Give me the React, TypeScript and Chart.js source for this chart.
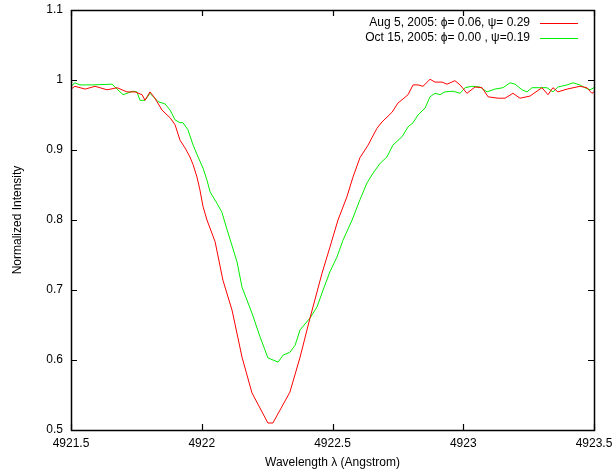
import React, { useEffect, useRef } from "react";
import { Chart, registerables } from "chart.js";

Chart.register(...registerables);

const xTickLabels = ["4921.5", "4922", "4922.5", "4923", "4923.5"];
const yTickLabels = ["0.5", "0.6", "0.7", "0.8", "0.9", "1", "1.1"];

const legendLabels = [
  "Aug 5, 2005: \u03d5= 0.06, \u03c8= 0.29",
  "Oct 15, 2005: \u03d5= 0.00 , \u03c8=0.19",
];
const seriesColors = ["#ff0000", "#00ee00"];

const augWavelength = [
  4921.5, 4921.515, 4921.554, 4921.592, 4921.638, 4921.676, 4921.714, 4921.745, 4921.772, 4921.783,
  4921.802, 4921.821, 4921.848, 4921.879, 4921.898, 4921.917, 4921.936, 4921.955, 4921.967, 4921.982,
  4921.993, 4922.005, 4922.02, 4922.051, 4922.081, 4922.116, 4922.154, 4922.192, 4922.253, 4922.272,
  4922.337, 4922.376, 4922.414, 4922.46, 4922.49, 4922.521, 4922.555, 4922.578, 4922.605, 4922.636,
  4922.67, 4922.689, 4922.728, 4922.75, 4922.77, 4922.789, 4922.808, 4922.827, 4922.846, 4922.873,
  4922.892, 4922.919, 4922.938, 4922.968, 4922.988, 4923.014, 4923.045, 4923.072, 4923.095, 4923.133,
  4923.16, 4923.19, 4923.217, 4923.255, 4923.301, 4923.324, 4923.343, 4923.362, 4923.397, 4923.446,
  4923.473, 4923.492, 4923.5,
];
const augIntensity = [
  0.987, 0.991, 0.987, 0.991, 0.986, 0.989, 0.983, 0.983, 0.979, 0.971,
  0.983, 0.974, 0.957, 0.946, 0.936, 0.914, 0.903, 0.89, 0.879, 0.861,
  0.843, 0.819, 0.8, 0.769, 0.714, 0.671, 0.604, 0.553, 0.51, 0.51,
  0.554, 0.604, 0.66, 0.724, 0.761, 0.8, 0.833, 0.861, 0.889, 0.907,
  0.931, 0.94, 0.954, 0.967, 0.973, 0.979, 0.993, 0.993, 0.991, 1.001,
  0.997, 0.997, 0.994, 0.999, 0.993, 0.981, 0.99, 0.989, 0.976, 0.974,
  0.974, 0.981, 0.974, 0.977, 0.989, 0.979, 0.989, 0.983, 0.987, 0.991,
  0.989, 0.981, 0.983,
];

const octWavelength = [
  4921.5, 4921.515, 4921.534, 4921.584, 4921.657, 4921.668, 4921.699, 4921.737, 4921.752, 4921.764,
  4921.783, 4921.802, 4921.833, 4921.859, 4921.879, 4921.898, 4921.917, 4921.928, 4921.947, 4921.967,
  4921.986, 4922.005, 4922.02, 4922.032, 4922.058, 4922.077, 4922.097, 4922.135, 4922.154, 4922.192,
  4922.223, 4922.253, 4922.292, 4922.311, 4922.337, 4922.357, 4922.376, 4922.414, 4922.441, 4922.464,
  4922.49, 4922.517, 4922.54, 4922.575, 4922.605, 4922.632, 4922.655, 4922.682, 4922.708, 4922.731,
  4922.766, 4922.789, 4922.808, 4922.827, 4922.854, 4922.873, 4922.892, 4922.911, 4922.93, 4922.961,
  4922.988, 4923.007, 4923.033, 4923.064, 4923.091, 4923.121, 4923.152, 4923.179, 4923.198, 4923.225,
  4923.244, 4923.263, 4923.293, 4923.32, 4923.343, 4923.362, 4923.397, 4923.42, 4923.446, 4923.465,
  4923.485, 4923.5,
];
const octIntensity = [
  0.991, 0.996, 0.993, 0.993, 0.994, 0.99, 0.979, 0.984, 0.983, 0.971,
  0.971, 0.981, 0.969, 0.966, 0.957, 0.943, 0.939, 0.939, 0.929, 0.907,
  0.89, 0.874, 0.857, 0.84, 0.824, 0.811, 0.786, 0.74, 0.704, 0.667,
  0.633, 0.603, 0.597, 0.607, 0.611, 0.621, 0.643, 0.66, 0.676, 0.7,
  0.726, 0.747, 0.771, 0.8, 0.829, 0.853, 0.867, 0.881, 0.89, 0.907,
  0.919, 0.933, 0.939, 0.95, 0.96, 0.976, 0.981, 0.979, 0.983, 0.984,
  0.981, 0.989, 0.991, 0.99, 0.983, 0.987, 0.989, 0.996, 0.994, 0.986,
  0.983, 0.989, 0.989, 0.989, 0.983, 0.99, 0.993, 0.996, 0.993, 0.989,
  0.986, 0.989,
];

const FONT = "'Liberation Sans', Arial, Helvetica, sans-serif";

const toPoints = (xs: number[], ys: number[]) => xs.map((x, i) => ({ x, y: ys[i] }));

const framePlugin = {
  id: "frameTicks",
  afterDraw(chart: any) {
    const { ctx, chartArea } = chart;
    const { left, right, top, bottom } = chartArea;
    const xs = chart.scales.x;
    const ys = chart.scales.y;
    const tl = 6;
    ctx.save();
    ctx.strokeStyle = "#000";
    ctx.lineWidth = 1.2;
    ctx.beginPath();
    xs.ticks.forEach((t: any) => {
      const px = Math.round(xs.getPixelForValue(t.value)) + 0.5;
      ctx.moveTo(px, bottom);
      ctx.lineTo(px, bottom - tl);
      ctx.moveTo(px, top);
      ctx.lineTo(px, top + tl);
    });
    ys.ticks.forEach((t: any) => {
      const py = Math.round(ys.getPixelForValue(t.value)) + 0.5;
      ctx.moveTo(left, py);
      ctx.lineTo(left + tl, py);
      ctx.moveTo(right, py);
      ctx.lineTo(right - tl, py);
    });
    ctx.stroke();
    ctx.lineWidth = 1.5;
    ctx.strokeRect(Math.round(left) + 0.5, Math.round(top) + 0.5, Math.round(right - left), Math.round(bottom - top));

    // legend
    ctx.font = `12px ${FONT}`;
    ctx.textAlign = "right";
    ctx.textBaseline = "middle";
    legendLabels.forEach((label, i) => {
      const y = top + 13 + i * 15;
      ctx.fillStyle = "#000";
      ctx.fillText(label, right - 64, y);
      ctx.strokeStyle = seriesColors[i];
      ctx.lineWidth = 1;
      ctx.beginPath();
      ctx.moveTo(right - 54, Math.round(y) + 0.5);
      ctx.lineTo(right - 16, Math.round(y) + 0.5);
      ctx.stroke();
    });
    ctx.restore();
  },
};

const zeroPad = (s: any) => {
  s.paddingTop = 0;
  s.paddingBottom = 0;
  s.paddingLeft = 0;
  s.paddingRight = 0;
};

export default function App() {
  const ref = useRef<HTMLCanvasElement | null>(null);
  useEffect(() => {
    document.body.style.margin = "0";
    if (!ref.current) return;
    Chart.defaults.font.family = FONT;
    Chart.defaults.font.size = 12;
    Chart.defaults.color = "#000";
    const chart = new Chart(ref.current, {
      type: "scatter",
      data: {
        datasets: [
          {
            label: legendLabels[0],
            data: toPoints(augWavelength, augIntensity),
            showLine: true,
            borderColor: seriesColors[0],
            borderWidth: 1,
            pointRadius: 0,
            tension: 0,
          },
          {
            label: legendLabels[1],
            data: toPoints(octWavelength, octIntensity),
            showLine: true,
            borderColor: seriesColors[1],
            borderWidth: 1,
            pointRadius: 0,
            tension: 0,
          },
        ],
      },
      options: {
        animation: false,
        responsive: false,
        layout: { padding: { top: 10, right: 19, left: 0, bottom: 0 } },
        plugins: { legend: { display: false }, tooltip: { enabled: false } },
        scales: {
          x: {
            type: "linear",
            min: 4921.5,
            max: 4923.5,
            grid: { display: false, drawTicks: false },
            border: { display: false },
            ticks: {
              stepSize: 0.5,
              padding: 6,
              maxRotation: 0,
              autoSkip: false,
              callback: (_v: any, i: number) => xTickLabels[i],
            },
            title: { display: true, text: "Wavelength \u03bb (Angstrom)", padding: { top: 0, bottom: 6 } },
            afterFit: (s: any) => {
              s.height = 46;
              zeroPad(s);
            },
          },
          y: {
            type: "linear",
            min: 0.5,
            max: 1.1,
            grid: { display: false, drawTicks: false },
            border: { display: false },
            ticks: {
              stepSize: 0.1,
              padding: 8,
              autoSkip: false,
              callback: (_v: any, i: number) => yTickLabels[i],
            },
            title: { display: true, text: "Normalized Intensity", padding: { top: 10, bottom: 0 } },
            afterFit: (s: any) => {
              s.width = 71;
              zeroPad(s);
            },
          },
        },
      },
      plugins: [framePlugin],
    });
    return () => chart.destroy();
  }, []);
  return (
    <div style={{ width: 613, height: 476 }}>
      <canvas ref={ref} width={613} height={476} />
    </div>
  );
}
